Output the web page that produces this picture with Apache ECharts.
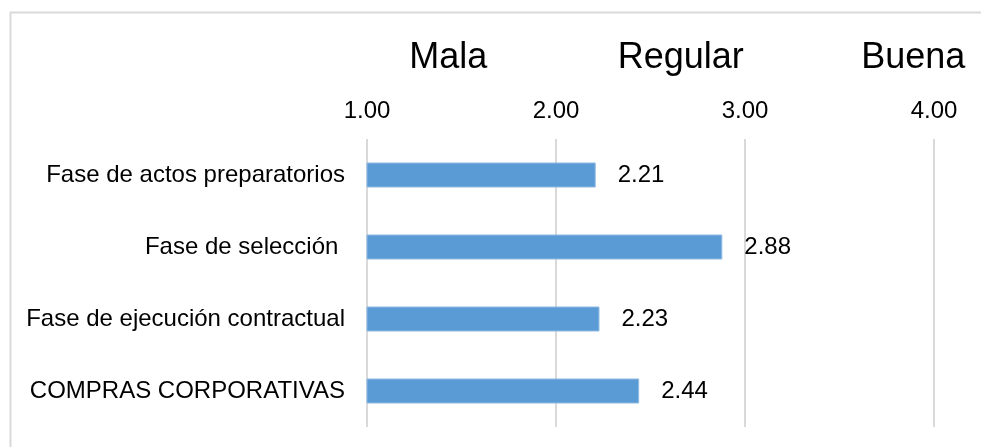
<!DOCTYPE html>
<html>
<head>
<meta charset="utf-8">
<script src="https://cdn.jsdelivr.net/npm/echarts@6/dist/echarts.min.js"></script>
<style>
html,body{margin:0;padding:0;background:#fff;}
#chart{width:981px;height:447px;}
</style>
</head>
<body>
<div id="chart"></div>
<script>
var categories = ['Fase de actos preparatorios', 'Fase de selección ', 'Fase de ejecución contractual', 'COMPRAS CORPORATIVAS'];
var values = [2.21, 2.88, 2.23, 2.44];
var ratingLabels = ['Mala', 'Regular', 'Buena'];
var ratingPositions = [1.43, 2.66, 3.89];

var chart = echarts.init(document.getElementById('chart'), null, {renderer: 'canvas'});
var FONT = 'Liberation Sans, Arial, sans-serif';

var option = {
  animation: false,
  backgroundColor: '#fff',
  grid: {left: 367, right: 47, top: 139, bottom: 20, containLabel: false},
  xAxis: {
    type: 'value',
    position: 'top',
    min: 1, max: 4, interval: 1,
    axisLine: {show: false},
    axisTick: {show: false},
    axisLabel: {
      fontSize: 24, fontFamily: FONT, color: '#000', margin: 16,
      formatter: function (v) { return v.toFixed(2); }
    },
    splitLine: {show: true, lineStyle: {color: '#d9d9d9', width: 2}}
  },
  yAxis: {
    type: 'category',
    data: categories,
    inverse: true,
    axisLine: {show: false},
    axisTick: {show: false},
    splitLine: {show: false},
    axisLabel: {fontSize: 24, fontFamily: FONT, color: '#000', margin: 22}
  },
  series: [{
    type: 'bar',
    data: values,
    barWidth: 25,
    itemStyle: {color: '#5b9bd5', borderColor: '#8fb9e2', borderWidth: 1},
    label: {
      show: true, position: 'right', distance: 22,
      fontSize: 24, fontFamily: FONT, color: '#000',
      formatter: function (p) { return p.value.toFixed(2); }
    }
  }],
  graphic: [
    {type: 'line', shape: {x1: 10, y1: 12.5, x2: 981, y2: 12.5}, style: {stroke: '#d9d9d9', lineWidth: 2}, silent: true},
    {type: 'line', shape: {x1: 10.5, y1: 12, x2: 10.5, y2: 447}, style: {stroke: '#d9d9d9', lineWidth: 2}, silent: true}
  ]
};
chart.setOption(option);

// rating labels placed via the axis scale
var gr = [];
for (var i = 0; i < ratingLabels.length; i++) {
  var px = chart.convertToPixel({xAxisIndex: 0}, ratingPositions[i]);
  gr.push({
    type: 'text', x: px, y: 58, silent: true,
    style: {text: ratingLabels[i], fontSize: 36, fontFamily: FONT, fill: '#000', align: 'center', verticalAlign: 'middle'}
  });
}
chart.setOption({graphic: option.graphic.concat(gr)});
</script>
</body>
</html>
